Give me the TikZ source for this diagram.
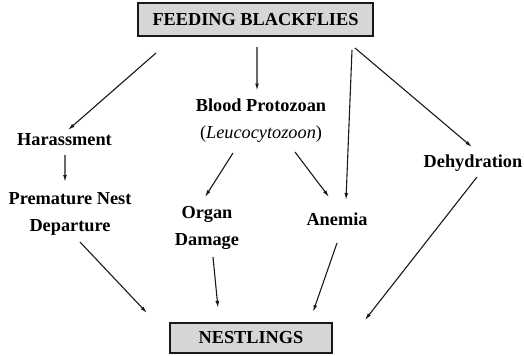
\documentclass[tikz,border=0pt]{standalone}
\usepackage{fontspec}
\setmainfont{Liberation Serif}
\usetikzlibrary{arrows.meta}

\begin{document}
\begin{tikzpicture}[
    x=1bp, y=-1bp,
    lbl/.style={
      font=\bfseries\fontsize{18.3bp}{27bp}\selectfont,
      align=center, inner sep=2pt
    },
    box/.style={
      lbl, rectangle, draw=black!90, line width=1.5bp,
      fill=black!16, inner sep=0pt
    },
    arr/.style={-{Latex[length=7bp,width=3.8bp]}, line width=1.1bp, draw=black!90}
  ]
    \useasboundingbox (0,0) rectangle (524,355);
    % boxes
    \node[box, minimum width=235bp, minimum height=33bp] (flies) at (255.5,19.5) {FEEDING BLACKFLIES};
    \node[box, minimum width=162bp, minimum height=30bp] (nest) at (251,338) {NESTLINGS};
    % effects
    \node[lbl] (harass) at (64.5,140) {Harassment};
    \node[lbl] (depart) at (70,213.5) {Premature Nest\\Departure};
    \node[lbl] (proto) at (261,121) {Blood Protozoan\\{\mdseries(\textit{Leucocytozoon})}};
    \node[lbl] (organ) at (207,228) {Organ\\Damage};
    \node[lbl] (anemia) at (337,219) {Anemia};
    \node[lbl] (dehyd) at (473,163) {Dehydration};
    % from the blackflies
    \draw[arr] ([shift={(-99.5,33.5)}]flies.center) -- ([shift={(3.5,-10)}]harass.center);
    \draw[arr] ([shift={(1.5,27.5)}]flies.center) -- ([shift={(-4,-30.5)}]proto.center);
    \draw[arr] ([shift={(96.5,30.5)}]flies.center) -- ([shift={(9,-19)}]anemia.center);
    \draw[arr] ([shift={(99.5,28.5)}]flies.center) -- ([shift={(-1,-16)}]dehyd.center);
    % middle row
    \draw[arr] ([shift={(0.5,15)}]harass.center) -- ([shift={(-5,-31.5)}]depart.center);
    \draw[arr] ([shift={(-28,32)}]proto.center) -- ([shift={(-2,-31)}]organ.center);
    \draw[arr] ([shift={(34,31)}]proto.center) -- ([shift={(-8,-22)}]anemia.center);
    % into the nestlings
    \draw[arr] ([shift={(10,28.5)}]depart.center) -- ([shift={(-104,-25)}]nest.center);
    \draw[arr] ([shift={(6,29)}]organ.center) -- ([shift={(-33,-30)}]nest.center);
    \draw[arr] ([shift={(0,24)}]anemia.center) -- ([shift={(62,-26)}]nest.center);
    \draw[arr] ([shift={(4,14)}]dehyd.center) -- ([shift={(114,-18)}]nest.center);
  \end{tikzpicture}
\end{document}
